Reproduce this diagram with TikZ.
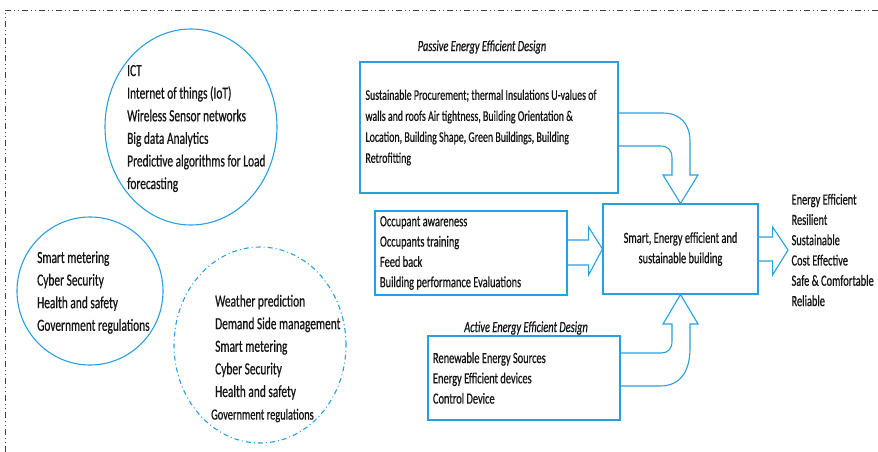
\documentclass[tikz,border=0pt]{standalone}
\usepackage{fontspec}
\setmainfont{Carlito}[FakeStretch=0.67,FakeBold=0.6]
\usetikzlibrary{positioning,calc,shapes.geometric}
\definecolor{lineblue}{RGB}{40,160,222}
\definecolor{inkgray}{RGB}{20,20,20}
\tikzset{
  bubble/.style={draw=lineblue,line width=1.1pt,inner sep=0pt},
  bubbledash/.style={bubble,dash pattern=on 5pt off 3pt on 1pt off 3pt},
  bubbletext/.style={align=left,inner sep=0pt,text=inkgray,font=\fontsize{17}{22.6}\selectfont},
  infobox/.style={draw=lineblue,line width=1.1pt,text=inkgray,align=flush left,inner ysep=4pt,font=\fontsize{15.5}{20.3}\selectfont},
  hubbox/.style={infobox,align=center},
  designtitle/.style={text=inkgray,inner sep=1pt,font=\itshape\fontsize{15.5}{18}\selectfont},
  fatarrow/.style={draw=lineblue,line width=1.1pt,line join=miter},
  frameline/.style={draw=black!75,line width=0.9pt,dash pattern=on 6pt off 3pt on 1pt off 3pt on 1pt off 3pt}
}
\begin{document}
\begin{tikzpicture}[x=1pt,y=-1pt]
  \useasboundingbox (0,0) rectangle (878,452);
  % outer frame (only top and left show)
  \draw[frameline] (5,452) -- (5,10) -- (878,10);

  % bubbles
  \node[bubble,ellipse,minimum width=172pt,minimum height=196pt] (ictring) at (191,127) {};
  \node[bubbletext,anchor=west] (ict) at (127,128.5) {ICT\\Internet of things (IoT)\\Wireless Sensor networks\\Big data Analytics\\Predictive algorithms for Load\\forecasting};
  \node[bubble,ellipse,minimum width=146pt,minimum height=148pt] (meterring) at (90,291) {};
  \node[bubbletext,anchor=west] (meter) at (37,292.5) {Smart metering\\Cyber Security\\Health and safety\\Government regulations};
  \node[bubbledash,ellipse,minimum width=172pt,minimum height=196pt] (demandring) at (260,345) {};
  \node[bubbletext,anchor=west] (demand) at (215,358.5) {Weather prediction\\Demand Side management\\Smart metering\\Cyber Security\\Health and safety\\{\hspace*{-4pt}\fontsize{15.5}{22.6}\selectfont Government regulations}};

  % boxes
  \node[infobox,text width=253pt,inner xsep=2.5pt,minimum width=258pt,minimum height=131pt,font=\fontsize{14.8}{21}\selectfont] (passive) at (489,127.5) {\hspace*{3pt}Sustainable Procurement; thermal Insulations U-values of\\\hspace*{3pt}walls and roofs Air tightness, Building Orientation \&\\\hspace*{3pt}Location, Building Shape, Green Buildings, Building\\\hspace*{3pt}Retrofitting};
  \node[designtitle] (passivetitle) at (482,47) {Passive Energy Efficient Design};
  \node[infobox,text width=182pt,inner xsep=5pt,minimum width=192pt,minimum height=84pt] (occ) at (471,253) {Occupant awareness\\Occupants training\\Feed back\\Building performance Evaluations};
  \node[hubbox,minimum width=155pt,minimum height=90pt] (hub) at (680.5,249) {Smart, Energy efficient and\\sustainable building};
  \node[infobox,text width=182pt,inner xsep=5pt,minimum width=192pt,minimum height=84pt] (active) at (524,378) {Renewable Energy Sources\\Energy Efficient devices\\Control Device};
  \node[designtitle] (activetitle) at (526,328) {Active Energy Efficient Design};
  \node[infobox,draw=none,inner sep=3pt,anchor=west] (out) at (788,250) {Energy Efficient\\Resilient\\Sustainable\\Cost Effective\\Safe \& Comfortable\\Reliable};

  % block arrows
  \draw[fatarrow] ($(occ.east)+(0,-13)$) -- ++(21,0) -- ++(0,-13) -- (hub.west) -- ($(occ.east)+(21,22)$) -- ++(0,-10) -- ($(occ.east)+(0,12)$);
  \draw[fatarrow] ($(hub.east)+(0,-12)$) -- ++(14,0) -- ++(0,-10) -- (out.west) -- ($(hub.east)+(14,26)$) -- ++(0,-14) -- ($(hub.east)+(0,12)$);
  \draw[fatarrow] (passive.east |- 0,113) -- (663,113) .. controls (680,113) and (690,124) .. (690,141) -- (690,175) -- (698,175) -- (hub.north) -- (663,175) -- (672,175) -- (672,158) .. controls (672,150) and (668,146) .. (660,146) -- (passive.east |- 0,146);
  \draw[fatarrow] (active.east |- 0,353) -- (661,353) .. controls (668,353) and (672,349) .. (672,341) -- (672,324) -- (663,324) -- (hub.south) -- (698,324) -- (690,324) -- (690,348) .. controls (690,372) and (680,386) .. (660,386) -- (active.east |- 0,386);
\end{tikzpicture}
\end{document}
